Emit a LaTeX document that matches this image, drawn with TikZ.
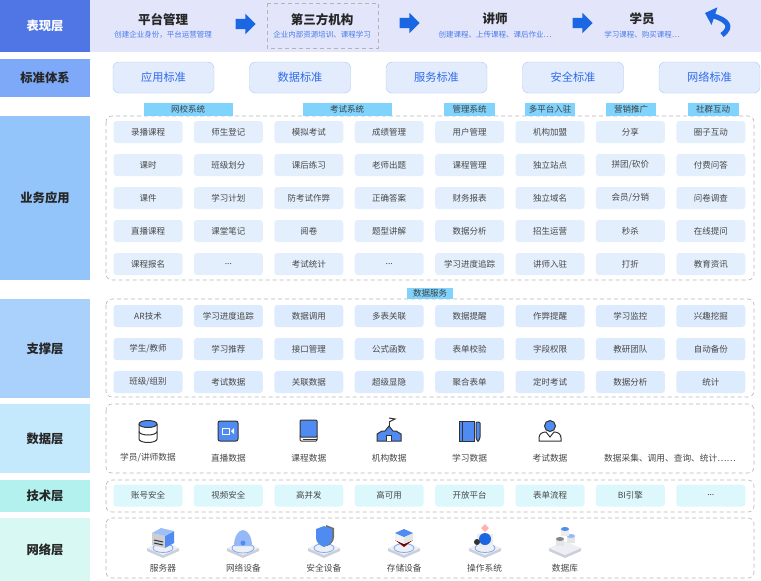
\documentclass[tikz,border=0pt]{standalone}
\usepackage{fontspec}
\setmainfont{Noto Sans CJK SC}
\usetikzlibrary{positioning}
\usetikzlibrary{shapes.arrows}
\usetikzlibrary{arrows.meta}

\definecolor{layerA}{HTML}{5075E4}
\definecolor{layerB}{HTML}{7EA9F8}
\definecolor{layerC}{HTML}{93C4FA}
\definecolor{layerD}{HTML}{A9D1FB}
\definecolor{layerE}{HTML}{C4E8FC}
\definecolor{layerF}{HTML}{B3F1EF}
\definecolor{layerG}{HTML}{D7F8F3}
\definecolor{topbg}{HTML}{E3E6FB}
\definecolor{stdfill}{HTML}{E2ECFC}
\definecolor{stdline}{HTML}{ADC7F2}
\definecolor{stdtext}{HTML}{2F6BE8}
\definecolor{subtext}{HTML}{4A7BEA}
\definecolor{tagfill}{HTML}{7FD3FD}
\definecolor{cellA}{HTML}{E4EFFD}
\definecolor{cellB}{HTML}{DCEBFD}
\definecolor{cellC}{HTML}{DDF8FC}
\definecolor{celltext}{HTML}{474747}
\definecolor{dashgray}{HTML}{B4B4B4}
\definecolor{arrowblue}{HTML}{1B66E3}
\definecolor{iconblue}{HTML}{4F8BF0}
\definecolor{icondark}{HTML}{333333}
\definecolor{slabtop}{HTML}{EDEFF4}
\definecolor{slabside}{HTML}{CBD0DA}
\definecolor{ringblue}{HTML}{7FAAF6}

\begin{document}
\begin{tikzpicture}[x=1pt,y=-1pt,node distance=80.4pt,
  every node/.style={inner sep=0pt},
  layer/.style={minimum width=90pt,font=\fontsize{12.3}{14}\selectfont\bfseries,text=black!85},
  toptitle/.style={font=\fontsize{12.5}{14}\selectfont\bfseries,text=black!85},
  topsub/.style={font=\fontsize{7.5}{9}\selectfont,text=subtext},
  blkarrow/.style={single arrow,fill=arrowblue,inner sep=5pt,minimum height=20pt,single arrow head extend=5pt},
  stdbox/.style={draw=stdline,fill=stdfill,rounded corners=6pt,minimum width=101pt,minimum height=31pt,
    font=\fontsize{11.2}{13}\selectfont,text=stdtext},
  dashbox/.style={draw=dashgray,dashed,dash pattern=on 4pt off 3pt,line width=0.6pt,rounded corners=6pt},
  tag/.style={fill=tagfill,minimum height=13pt,font=\fontsize{8.5}{10}\selectfont,text=black!75},
  cell/.style={fill=cellA,rounded corners=3pt,minimum width=69pt,minimum height=22pt,
    font=\fontsize{8.5}{10}\selectfont,text=celltext},
  supcell/.style={cell,fill=cellB},
  teccell/.style={cell,fill=cellC},
  datlabel/.style={font=\fontsize{8.7}{10}\selectfont,text=celltext},
  icon/.style={line width=1pt,draw=icondark}]
\useasboundingbox (0,0) rectangle (761,581);

% layer names on the left
\fill[topbg] (90,0) rectangle (761,52);
\node[layer,fill=layerA,minimum height=52pt,text=white] (L1) at (45,26) {表现层};
\node[layer,fill=layerB,minimum height=38pt] (L2) at (45,78) {标准体系};
\node[layer,fill=layerC,minimum height=164pt] (L3) at (45,198) {业务应用};
\node[layer,fill=layerD,minimum height=99pt] (L4) at (45,348.5) {支撑层};
\node[layer,fill=layerE,minimum height=69pt] (L5) at (45,438.5) {数据层};
\node[layer,fill=layerF,minimum height=32pt] (L6) at (45,496) {技术层};
\node[layer,fill=layerG,minimum height=63pt] (L7) at (45,549.5) {网络层};

% presentation layer
\node[toptitle] (pt) at (163,20) {平台管理};
\node[topsub] (pts) at (163,35) {创建企业身份，平台运营管理};
\draw[dashgray,dashed,dash pattern=on 4pt off 3pt,line width=0.6pt] (267,3) rectangle (378,48);
\node[toptitle] (tp) at (322,20) {第三方机构};
\node[topsub] (tps) at (322,35) {企业内部资源培训、课程学习};
\node[toptitle] (js) at (495,19) {讲师};
\node[topsub] (jss) at (495,35) {创建课程、上传课程、课后作业…};
\node[toptitle] (xy) at (642,19) {学员};
\node[topsub] (xys) at (642,35) {学习课程、购买课程…};
\node[blkarrow] (ar1) at (243,24) {};
\node[blkarrow] (ar2) at (407,23) {};
\node[blkarrow] (ar3) at (580,23) {};
\draw[arrowblue,line width=5pt,-{Triangle[length=10pt,width=18pt]}] (722,35) .. controls (734,26) and (726,20) .. (705,13);

% standards
\node[stdbox] (st1) at (163.5,77.5) {应用标准};
\node[stdbox,right of=st1,node distance=136.5pt] (st2) {数据标准};
\node[stdbox,right of=st2,node distance=136.5pt] (st3) {服务标准};
\node[stdbox,right of=st3,node distance=136.5pt] (st4) {安全标准};
\node[stdbox,right of=st4,node distance=136.5pt] (st5) {网络标准};

% business applications
\draw[dashbox] (106,116) rectangle (754,280);
\node[tag,minimum width=89pt] (g1) at (188,109.5) {网校系统};
\node[tag,minimum width=89pt] (g2) at (347,109.5) {考试系统};
\node[tag,minimum width=51pt] (g3) at (469.5,109.5) {管理系统};
\node[tag,minimum width=50pt] (g4) at (550,109.5) {多平台入驻};
\node[tag,minimum width=50pt] (g5) at (631,109.5) {营销推广};
\node[tag,minimum width=51pt] (g6) at (713,109.5) {社群互动};

\node[cell] (b11) at (148,132) {录播课程};
\node[cell,right of=b11] (b12) {师生登记};
\node[cell,right of=b12] (b13) {模拟考试};
\node[cell,right of=b13] (b14) {成绩管理};
\node[cell,right of=b14] (b15) {用户管理};
\node[cell,right of=b15] (b16) {机构加盟};
\node[cell,right of=b16] (b17) {分享};
\node[cell,right of=b17] (b18) {圈子互动};

\node[cell] (b21) at (148,165) {课时};
\node[cell,right of=b21] (b22) {班级划分};
\node[cell,right of=b22] (b23) {课后练习};
\node[cell,right of=b23] (b24) {老师出题};
\node[cell,right of=b24] (b25) {课程管理};
\node[cell,right of=b25] (b26) {独立站点};
\node[cell,right of=b26] (b27) {拼团/砍价};
\node[cell,right of=b27] (b28) {付费问答};

\node[cell] (b31) at (148,198) {课件};
\node[cell,right of=b31] (b32) {学习计划};
\node[cell,right of=b32] (b33) {防考试作弊};
\node[cell,right of=b33] (b34) {正确答案};
\node[cell,right of=b34] (b35) {财务报表};
\node[cell,right of=b35] (b36) {独立域名};
\node[cell,right of=b36] (b37) {会员/分销};
\node[cell,right of=b37] (b38) {问卷调查};

\node[cell] (b41) at (148,231) {直播课程};
\node[cell,right of=b41] (b42) {课堂笔记};
\node[cell,right of=b42] (b43) {阅卷};
\node[cell,right of=b43] (b44) {题型讲解};
\node[cell,right of=b44] (b45) {数据分析};
\node[cell,right of=b45] (b46) {招生运营};
\node[cell,right of=b46] (b47) {秒杀};
\node[cell,right of=b47] (b48) {在线提问};

\node[cell] (b51) at (148,264) {课程报名};
\node[cell,right of=b51] (b52) {...};
\node[cell,right of=b52] (b53) {考试统计};
\node[cell,right of=b53] (b54) {...};
\node[cell,right of=b54] (b55) {学习进度追踪};
\node[cell,right of=b55] (b56) {讲师入驻};
\node[cell,right of=b56] (b57) {打折};
\node[cell,right of=b57] (b58) {教育资讯};

% support layer
\draw[dashbox] (106,299) rectangle (754,397);
\node[tag,minimum width=46pt,minimum height=11pt] (g7) at (430,293) {数据服务};

\node[supcell] (s11) at (148,316) {AR技术};
\node[supcell,right of=s11] (s12) {学习进度追踪};
\node[supcell,right of=s12] (s13) {数据调用};
\node[supcell,right of=s13] (s14) {多表关联};
\node[supcell,right of=s14] (s15) {数据提醒};
\node[supcell,right of=s15] (s16) {作弊提醒};
\node[supcell,right of=s16] (s17) {学习监控};
\node[supcell,right of=s17] (s18) {兴趣挖掘};

\node[supcell] (s21) at (148,349) {学生/教师};
\node[supcell,right of=s21] (s22) {学习推荐};
\node[supcell,right of=s22] (s23) {接口管理};
\node[supcell,right of=s23] (s24) {公式函数};
\node[supcell,right of=s24] (s25) {表单校验};
\node[supcell,right of=s25] (s26) {字段权限};
\node[supcell,right of=s26] (s27) {教研团队};
\node[supcell,right of=s27] (s28) {自动备份};

\node[supcell] (s31) at (148,382) {班级/组别};
\node[supcell,right of=s31] (s32) {考试数据};
\node[supcell,right of=s32] (s33) {关联数据};
\node[supcell,right of=s33] (s34) {超级显隐};
\node[supcell,right of=s34] (s35) {聚合表单};
\node[supcell,right of=s35] (s36) {定时考试};
\node[supcell,right of=s36] (s37) {数据分析};
\node[supcell,right of=s37] (s38) {统计};

% data layer
\draw[dashbox] (106,404) rectangle (754,473);
\node[datlabel] (d1) at (148,458) {学员/讲师数据};
\node[datlabel,right of=d1] (d2) {直播数据};
\node[datlabel,right of=d2] (d3) {课程数据};
\node[datlabel,right of=d3] (d4) {机构数据};
\node[datlabel,right of=d4] (d5) {学习数据};
\node[datlabel,right of=d5] (d6) {考试数据};
\node[datlabel] (d7) at (670,458) {数据采集、调用、查询、统计……};

\begin{scope}[shift={(148,431)}]
  \fill[white] (-9,-7) rectangle (9,8);
  \draw[icon] (-9,-7) -- (-9,8) arc[start angle=180,end angle=0,x radius=9,y radius=3.5] -- (9,-7);
  \draw[icon] (-9,0.5) arc[start angle=180,end angle=0,x radius=9,y radius=3.5];
  \draw[icon,fill=iconblue] (0,-7) ellipse[x radius=9,y radius=3.5];
\end{scope}
\begin{scope}[shift={(228,431)}]
  \draw[icon,fill=iconblue,rounded corners=2pt] (-10,-10) rectangle (10,10);
  \draw[white,line width=1pt] (-6,-3) rectangle (1,3);
  \fill[white] (3,0) -- (6,-3) -- (6,3) -- cycle;
\end{scope}
\begin{scope}[shift={(308,431)}]
  \draw[icon,fill=white,rounded corners=1pt] (-8,4) rectangle (9,10);
  \draw[icon,fill=iconblue,rounded corners=1pt] (-8,-11) rectangle (9,6);
  \draw[icon] (-5,8) -- (9,8);
\end{scope}
\begin{scope}[shift={(389,431)}]
  \draw[icon] (0,-4) -- (0,-13);
  \draw[icon,fill=white] (0,-13) -- (6,-12) -- (0,-9);
  \draw[icon,fill=iconblue] (-12,10) -- (-12,3) -- (-7,0) -- (-4,0) -- (0,-5) -- (4,0) -- (7,0) -- (12,3) -- (12,10) -- cycle;
  \draw[icon,fill=white] (-2.5,10) -- (-2.5,4) -- (2.5,4) -- (2.5,10);
\end{scope}
\begin{scope}[shift={(470,431)}]
  \draw[icon,fill=iconblue] (-11,-10) rectangle (4,10);
  \draw[icon] (-8,-10) -- (-8,10);
  \draw[icon,fill=iconblue,rounded corners=1pt] (6,7) -- (6,-9) -- (10,-9) -- (10,7) -- (8,11) -- cycle;
\end{scope}
\begin{scope}[shift={(550,431)}]
  \draw[icon,fill=white] (-11,10) -- (-11,7) .. controls (-11,3) and (-8,1) .. (-4,1) -- (0,6) -- (4,1) .. controls (8,1) and (11,3) .. (11,7) -- (11,10) -- cycle;
  \draw[icon,fill=iconblue] (0,-5) circle[radius=5.5];
\end{scope}

% technology layer
\draw[dashbox] (106,480) rectangle (754,512);
\node[teccell] (t1) at (148,495.5) {账号安全};
\node[teccell,right of=t1] (t2) {视频安全};
\node[teccell,right of=t2] (t3) {高并发};
\node[teccell,right of=t3] (t4) {高可用};
\node[teccell,right of=t4] (t5) {开放平台};
\node[teccell,right of=t5] (t6) {表单流程};
\node[teccell,right of=t6] (t7) {BI引擎};
\node[teccell,right of=t7] (t8) {...};

% network layer
\draw[dashbox] (106,518) rectangle (754,578);
\node[datlabel] (n1) at (163,568) {服务器};
\node[datlabel,right of=n1] (n2) {网络设备};
\node[datlabel,right of=n2] (n3) {安全设备};
\node[datlabel,right of=n3] (n4) {存储设备};
\node[datlabel,right of=n4] (n5) {操作系统};
\node[datlabel,right of=n5] (n6) {数据库};

\begin{scope}[shift={(163,542)}]
  \fill[slabside] (-16,6) -- (-16,9) -- (0,16) -- (16,9) -- (16,6) -- (0,13) -- cycle;
  \fill[slabtop] (-16,6) -- (0,-1) -- (16,6) -- (0,13) -- cycle;
  \draw[ringblue,line width=0.8pt] (0,6) ellipse[x radius=10,y radius=4.5];
  \fill[slabtop!70!gray] (-11,-9) -- (2,-6) -- (2,6) -- (-11,3) -- cycle;
  \fill[iconblue] (2,-6) -- (11,-11) -- (11,1) -- (2,6) -- cycle;
  \fill[iconblue!55] (-11,-9) -- (-2,-14) -- (11,-11) -- (2,-6) -- cycle;
  \draw[icondark,line width=1pt] (-9,-2) -- (0,0) (-9,1) -- (0,3);
\end{scope}
\begin{scope}[shift={(243,542)}]
  \fill[slabside] (-16,6) -- (-16,9) -- (0,16) -- (16,9) -- (16,6) -- (0,13) -- cycle;
  \fill[slabtop] (-16,6) -- (0,-1) -- (16,6) -- (0,13) -- cycle;
  \draw[ringblue,line width=0.8pt] (0,6) ellipse[x radius=11,y radius=5];
  \fill[iconblue!60] (-9,4) arc[start angle=180,end angle=360,x radius=9,y radius=16] -- cycle;
  \fill[iconblue] (0,1) circle[radius=2.5];
\end{scope}
\begin{scope}[shift={(324,542)}]
  \fill[slabside] (-16,6) -- (-16,9) -- (0,16) -- (16,9) -- (16,6) -- (0,13) -- cycle;
  \fill[slabtop] (-16,6) -- (0,-1) -- (16,6) -- (0,13) -- cycle;
  \draw[ringblue,line width=0.8pt] (0,6) ellipse[x radius=10,y radius=4.5];
  \fill[icondark!70] (2,-17) -- (10,-14) -- (10,-5) .. controls (10,0) and (6,3) .. (3,4) -- cycle;
  \fill[iconblue] (0,-16) -- (8,-13) -- (8,-4) .. controls (8,1) and (3,4) .. (0,5) .. controls (-3,4) and (-8,1) .. (-8,-4) -- (-8,-13) -- cycle;
\end{scope}
\begin{scope}[shift={(404,542)}]
  \fill[slabside] (-16,6) -- (-16,9) -- (0,16) -- (16,9) -- (16,6) -- (0,13) -- cycle;
  \fill[slabtop] (-16,6) -- (0,-1) -- (16,6) -- (0,13) -- cycle;
  \draw[ringblue,line width=0.8pt] (0,6) ellipse[x radius=10,y radius=4.5];
  \fill[red!45!black] (-9,-2) -- (0,2) -- (9,-2) -- (0,5) -- cycle;
  \fill[white!90!gray] (-9,-9) -- (0,-5) -- (0,2) -- (-9,-2) -- cycle;
  \fill[white!80!gray] (9,-9) -- (0,-5) -- (0,2) -- (9,-2) -- cycle;
  \fill[iconblue] (-9,-9) -- (0,-13) -- (9,-9) -- (0,-5) -- cycle;
\end{scope}
\begin{scope}[shift={(485,542)}]
  \fill[slabside] (-16,6) -- (-16,9) -- (0,16) -- (16,9) -- (16,6) -- (0,13) -- cycle;
  \fill[slabtop] (-16,6) -- (0,-1) -- (16,6) -- (0,13) -- cycle;
  \draw[ringblue,line width=0.8pt] (0,6) ellipse[x radius=10,y radius=4.5];
  \fill[white!85!gray] (-8,-8) rectangle (8,4);
  \fill[red!30] (0,-18) -- (4,-14) -- (0,-10) -- (-4,-14) -- cycle;
  \fill[arrowblue] (0,-3) circle[radius=6];
  \fill[icondark] (-8,0) circle[radius=3];
\end{scope}
\begin{scope}[shift={(565,542)}]
  \fill[slabside] (-16,6) -- (-16,9) -- (0,16) -- (16,9) -- (16,6) -- (0,13) -- cycle;
  \fill[slabtop] (-16,6) -- (0,-1) -- (16,6) -- (0,13) -- cycle;
  \fill[white!80!gray] (-9,-3) rectangle (-1,4);
  \fill[icondark!60] (-5,-3) ellipse[x radius=4,y radius=2];
  \fill[white!80!gray] (2,-6) rectangle (10,1);
  \fill[iconblue!60] (6,-6) ellipse[x radius=4,y radius=2];
  \fill[white!85!gray] (-4,-13) rectangle (4,-6);
  \fill[iconblue] (0,-13) ellipse[x radius=4,y radius=2];
\end{scope}

\end{tikzpicture}
\end{document}
